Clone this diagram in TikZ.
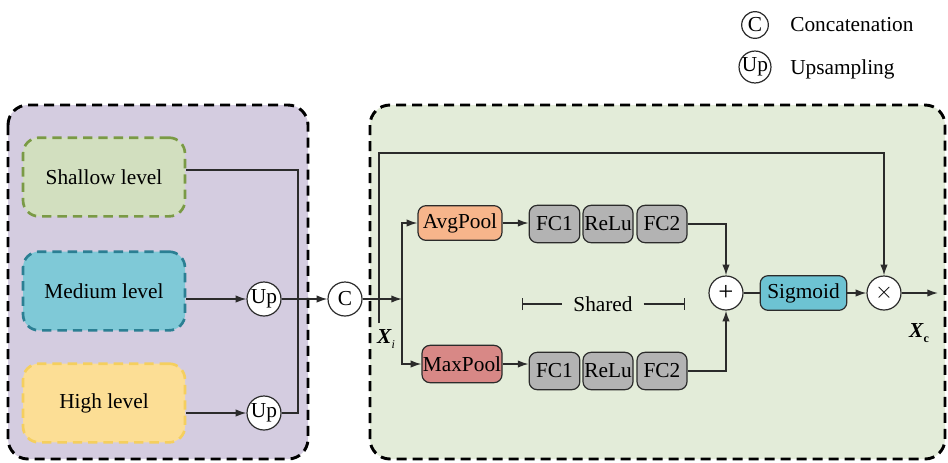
\documentclass[tikz,border=0pt]{standalone}
\usepackage{fontspec}
\setmainfont{Liberation Serif}
\usetikzlibrary{arrows.meta,calc}
\definecolor{lav}{HTML}{D4CCE0}
\definecolor{grn}{HTML}{E3ECD9}
\definecolor{shf}{HTML}{D2DFBF}
\definecolor{shb}{HTML}{7A9A45}
\definecolor{mef}{HTML}{7FC9D7}
\definecolor{meb}{HTML}{2B7F93}
\definecolor{hif}{HTML}{FCDE95}
\definecolor{hib}{HTML}{F5CF5E}
\definecolor{avgc}{HTML}{F7B58B}
\definecolor{maxc}{HTML}{D88886}
\definecolor{fcg}{HTML}{B3B3B3}
\definecolor{sigc}{HTML}{6DC3D3}
\definecolor{lnc}{HTML}{2B2B2B}
\begin{document}
\begin{tikzpicture}[x=0.75pt,y=-0.75pt,
  font=\fontsize{16}{18}\selectfont,
  panel/.style={draw=black,line width=2.2pt,dash pattern=on 7.5pt off 4.5pt,rounded corners=15pt},
  lvl/.style={rounded corners=12pt,line width=2pt,dash pattern=on 7pt off 4.5pt,minimum width=121.5pt,minimum height=59pt,inner sep=0pt},
  blk/.style={draw=lnc,rounded corners=6pt,line width=0.9pt,minimum height=28pt,inner sep=0pt},
  op/.style={circle,draw=lnc,fill=white,line width=0.9pt,minimum size=25.5pt,inner sep=0pt},
  conn/.style={draw=lnc,line width=1.1pt},
  arr/.style={conn,-{Latex[length=8pt,width=5.5pt]}},
  plain/.style={inner sep=0pt}
]
\useasboundingbox (0,0) rectangle (948,462);
% panels
\draw[panel,fill=lav] (8,105) rectangle (308,459);
\draw[panel,fill=grn] (370,105) rectangle (945,459);
% legend
\node[op,minimum size=20pt] (lc) at (755,25) {C};
\node[plain,anchor=west] (lct) at (790,25) {Concatenation};
\node[op,minimum size=20pt] (lu) at (755,67) {Up};
\node[plain,anchor=west] (lut) at (790,69) {Upsampling};
% levels
\node[lvl,draw=shb,fill=shf] (sh) at (104,177) {Shallow level};
\node[lvl,draw=meb,fill=mef] (me) at (104,291) {Medium level};
\node[lvl,draw=hib,fill=hif] (hi) at (104,403) {High level};
\node[op] (upm) at (264,299) {Up};
\node[op] (uph) at (264,413) {Up};
\node[op] (cat) at (345,299) {C};
\coordinate (j1) at (298,170);
\coordinate (j2) at (298,413);
\draw[conn] (sh.east |- j1) -- (j1) -- (j2) -- (uph);
\draw[arr] (me.east |- upm) -- (upm);
\draw[arr] (hi.east |- uph) -- (uph);
\draw[arr] (upm) -- (cat);
% channel attention
\coordinate (sp) at (402,299);
\draw[arr] (cat) -- (sp);
\node[blk,fill=avgc,minimum width=63pt,minimum height=26pt] (avg) at (460,223) {AvgPool};
\node[blk,fill=maxc,minimum width=60pt] (max) at (462,364) {MaxPool};
\draw[arr] (sp) |- (avg.west);
\draw[arr] (sp) |- (max.west);
\node[blk,fill=fcg,minimum width=38pt] (fc1a) at (554.5,224) {FC1};
\node[blk,fill=fcg,minimum width=37.5pt] (rla) at (608,224) {ReLu};
\node[blk,fill=fcg,minimum width=37.5pt] (fc2a) at (662,224) {FC2};
\node[blk,fill=fcg,minimum width=38pt] (fc1b) at (554.5,371) {FC1};
\node[blk,fill=fcg,minimum width=37.5pt] (rlb) at (608,371) {ReLu};
\node[blk,fill=fcg,minimum width=37.5pt] (fc2b) at (662,371) {FC2};
\draw[arr] (avg.east) -- (avg.east -| fc1a.west);
\draw[arr] (max.east) -- (max.east -| fc1b.west);
\node[op] (plus) at (726,293) {\fontsize{20}{20}\selectfont +};
\node[blk,fill=sigc,minimum width=65pt,minimum height=26pt] (sig) at (803.5,293) {Sigmoid};
\node[op] (times) at (884,293) {$\times$};
\draw[arr] (fc2a.east) -| (plus.north);
\draw[arr] (fc2b.east) -| (plus.south);
\draw[conn] (plus) -- (sig);
\draw[arr] (sig) -- (times);
\coordinate (out) at (938,293);
\draw[arr] (times) -- (out);
\coordinate (xb) at (379,323);
\coordinate (xt) at (379,153);
\draw[arr] (xb) -- (xt) -| (times.north);
% shared
\node[inner sep=8pt] (shr) at (603,304) {Shared};
\coordinate (shl0) at (522,304);
\coordinate (shr0) at (685,304);
\draw[conn,{Bar[width=9pt]}-] (shl0) -- (shr.west);
\draw[conn,-{Bar[width=9pt]}] (shr.east) -- (shr0);
% labels
\node[plain] (xi) at (386,339) {\textbf{\textit{X}}\raisebox{-0.6ex}{\fontsize{9}{9}\selectfont\textit{i}}};
\node[plain] (xc) at (919,333) {\textbf{\textit{X}}\raisebox{-0.6ex}{\fontsize{9}{9}\selectfont\bfseries c}};
\end{tikzpicture}
\end{document}
